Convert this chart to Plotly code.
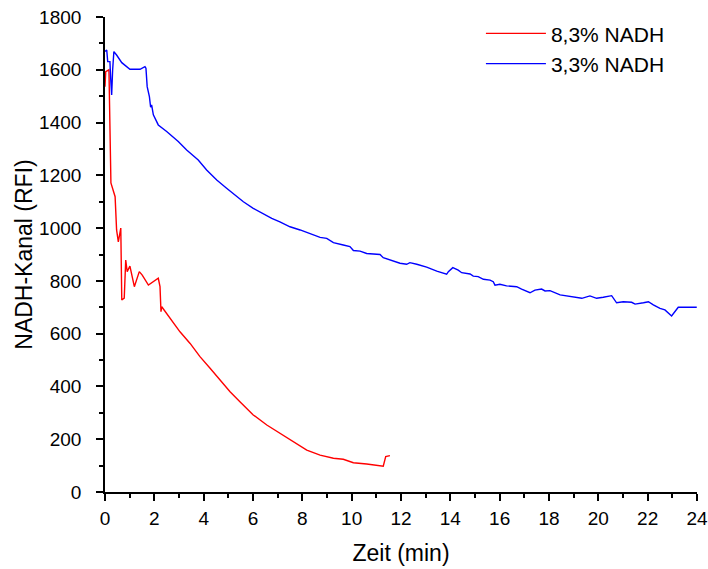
import plotly.graph_objects as go

# 8,3% NADH: time (min) and NADH channel (RFI)
t_83 = [0.0, 0.03, 0.16, 0.20, 0.24, 0.41, 0.47, 0.54, 0.64, 0.68, 0.78, 0.84, 0.90,
        1.01, 1.19, 1.39, 1.51, 1.76, 2.16, 2.23, 2.27, 2.30, 2.64, 3.04, 3.45, 3.85,
        4.26, 4.66, 5.07, 5.47, 6.01, 6.56, 7.09, 7.63, 8.18, 8.72, 9.26, 9.66, 10.07,
        10.61, 11.28, 11.38, 11.55]
y_83 = [1536, 1593, 1600, 1410, 1171, 1119, 993, 948, 1000, 728, 735, 879, 835,
        856, 778, 835, 822, 784, 810, 778, 683, 702, 658, 607, 563, 513,
        469, 424, 380, 342, 292, 254, 222, 191, 159, 140, 128, 124, 111,
        106, 98, 134, 138]

# 3,3% NADH: time (min) and NADH channel (RFI)
t_33 = [0.0, 0.07, 0.11, 0.20, 0.23, 0.27, 0.31, 0.36, 0.47, 0.68, 1.01, 1.42, 1.62,
        1.66, 1.71, 1.80, 1.85, 1.89, 1.96, 2.16, 2.50, 2.97, 3.31, 3.78, 4.12, 4.53,
        4.93, 5.34, 5.61, 6.01, 6.42, 6.76, 7.09, 7.50, 7.91, 8.31, 8.72, 8.99, 9.26,
        9.66, 9.93, 10.07, 10.34, 10.61, 11.15, 11.28, 11.69, 11.96, 12.23, 12.36,
        12.64, 13.04, 13.45, 13.85, 13.92, 14.10, 14.32, 14.46, 14.80, 14.93, 15.13,
        15.34, 15.61, 15.74, 15.81, 16.01, 16.28, 16.69, 16.89, 17.23, 17.43, 17.70,
        17.84, 18.04, 18.45, 18.98, 19.33, 19.66, 19.93, 20.20, 20.54, 20.74, 21.01,
        21.35, 21.49, 21.83, 22.03, 22.23, 22.50, 22.70, 22.97, 23.24, 23.99]
y_33 = [1669, 1675, 1631, 1631, 1568, 1505, 1600, 1669, 1656, 1627, 1602, 1602, 1612,
        1606, 1536, 1498, 1458, 1467, 1429, 1391, 1366, 1328, 1296, 1258, 1220, 1182,
        1151, 1119, 1100, 1075, 1053, 1037, 1024, 1005, 993, 980, 965, 961, 945,
        936, 930, 915, 913, 904, 900, 888, 875, 867, 863, 869,
        863, 852, 837, 825, 835, 850, 841, 831, 826, 818, 816,
        806, 803, 797, 784, 787, 781, 778, 769, 755, 765, 769,
        762, 763, 747, 740, 734, 743, 734, 738, 744, 717, 721,
        719, 712, 717, 721, 709, 696, 690, 667, 700, 700]

series_names = ["8,3% NADH", "3,3% NADH"]
series_colors = ["#ff0000", "#0000ff"]

x_ticks = list(range(0, 25, 2))
y_ticks = list(range(0, 1801, 200))

FONT = "Liberation Sans, Arial, sans-serif"

fig = go.Figure()
for t, y, name, color in zip([t_83, t_33], [y_83, y_33], series_names, series_colors):
    fig.add_trace(go.Scatter(x=t, y=y, mode="lines", name=name,
                             line=dict(color=color, width=1.4)))

axis_common = dict(
    showline=True, linecolor="black", linewidth=1.6,
    ticks="outside", ticklen=7, tickwidth=1.6, tickcolor="black",
    showgrid=False, zeroline=False, mirror=False, automargin=False,
    tickfont=dict(family=FONT, size=19, color="black"),
)

fig.update_xaxes(
    range=[0, 24], tickvals=x_ticks, ticklabelstandoff=1,
    minor=dict(dtick=1, ticks="outside", ticklen=4, tickwidth=1.6, tickcolor="black"),
    title=dict(text="Zeit (min)", font=dict(family=FONT, size=23, color="black"), standoff=17),
    **axis_common,
)
fig.update_yaxes(
    range=[0, 1800], tickvals=y_ticks, ticklabelstandoff=11,
    minor=dict(dtick=100, ticks="outside", ticklen=4, tickwidth=1.6, tickcolor="black"),
    title=dict(text="NADH-Kanal (RFI)", font=dict(family=FONT, size=23, color="black"), standoff=0),
    **axis_common,
)

fig.update_layout(
    width=708, height=569,
    margin=dict(l=105, r=11, t=17, b=77),
    plot_bgcolor="white", paper_bgcolor="white",
    legend=dict(x=0.635, y=1.008, xanchor="left", yanchor="top",
                bgcolor="rgba(0,0,0,0)", font=dict(family=FONT, size=21, color="black"),
                itemwidth=60, tracegroupgap=0),
)

fig.write_html("out.html")
